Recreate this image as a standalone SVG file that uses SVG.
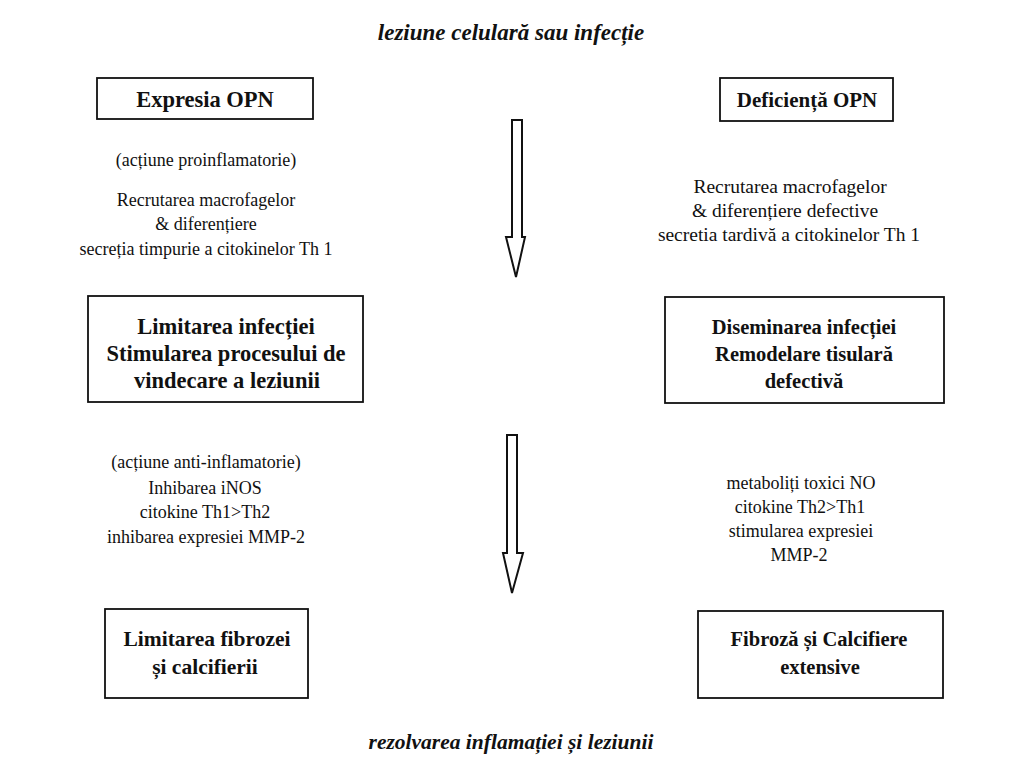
<svg xmlns="http://www.w3.org/2000/svg" width="1018" height="773" viewBox="0 0 1018 773">
<style>
text{font-family:"Liberation Serif","Times New Roman",serif;fill:#111;text-anchor:middle}
.t{font-size:18px}
.t2{font-size:19.5px}
.b{font-size:20.5px;font-weight:bold}
.bl{font-size:22.5px;font-weight:bold}
.i{font-size:21px;font-weight:bold;font-style:italic}
.box{fill:#fff;stroke:#111;stroke-width:1.8}
.arr{fill:#fff;stroke:#111;stroke-width:2;stroke-linejoin:miter}
</style>
<rect width="1018" height="773" fill="#fff"/>
<text class="i" x="511" y="40" style="font-size:23px">leziune celulară sau infecție</text>
<g id="n1"><rect class="box" x="97" y="78" width="216" height="41"/><text class="bl" x="205" y="107">Expresia OPN</text></g>
<g id="n2"><rect class="box" x="720" y="78" width="173" height="43"/><text class="b" x="807" y="107" style="font-size:21px">Deficiență OPN</text></g>
<g id="t1">
<text class="t" x="206" y="166">(acțiune proinflamatorie)</text>
<text class="t" x="206" y="206">Recrutarea macrofagelor</text>
<text class="t" x="206" y="230">&amp; diferențiere</text>
<text class="t" x="206" y="255">secreția timpurie a citokinelor Th 1</text>
</g>
<g id="t2">
<text class="t2" x="790" y="193">Recrutarea macrofagelor</text>
<text class="t2" x="785" y="217">&amp; diferențiere defective</text>
<text class="t2" x="789" y="241">secretia tardivă a citokinelor Th 1</text>
</g>
<g id="n3"><rect class="box" x="88" y="296" width="275" height="106"/>
<text class="bl" x="226" y="334">Limitarea infecției</text>
<text class="bl" x="226" y="361">Stimularea procesului de</text>
<text class="bl" x="227" y="388">vindecare a leziunii</text></g>
<g id="n4"><rect class="box" x="665" y="297" width="279" height="106"/>
<text class="b" x="804" y="334">Diseminarea infecției</text>
<text class="b" x="804" y="361">Remodelare tisulară</text>
<text class="b" x="804" y="388">defectivă</text></g>
<g id="t3">
<text class="t" x="206" y="468">(acțiune anti-inflamatorie)</text>
<text class="t" x="205" y="494">Inhibarea iNOS</text>
<text class="t" x="205" y="518">citokine Th1&gt;Th2</text>
<text class="t" x="206" y="543">inhibarea expresiei MMP-2</text>
</g>
<g id="t4">
<text class="t" x="801" y="489">metaboliți toxici NO</text>
<text class="t" x="800" y="513">citokine Th2&gt;Th1</text>
<text class="t" x="801" y="537">stimularea expresiei</text>
<text class="t" x="799" y="561">MMP-2</text>
</g>
<g id="n5"><rect class="box" x="105" y="609" width="203" height="89"/>
<text class="b" x="207" y="646" style="font-size:21.5px">Limitarea fibrozei</text>
<text class="b" x="205" y="674" style="font-size:21.5px">și calcifierii</text></g>
<g id="n6"><rect class="box" x="698" y="611" width="245" height="87"/>
<text class="b" x="819" y="646">Fibroză și Calcifiere</text>
<text class="b" x="820" y="674">extensive</text></g>
<g id="connectors">
<path class="arr" d="M512,120 L522,120 L522,237 L525,237 L516,277 L506,237 L512,237 Z"/>
<path class="arr" d="M507,435 L517,435 L517,553 L523,553 L512,593 L503,553 L507,553 Z"/>
</g>
<text class="i" x="511" y="749" style="font-size:21.5px">rezolvarea inflamației și leziunii</text>
</svg>
